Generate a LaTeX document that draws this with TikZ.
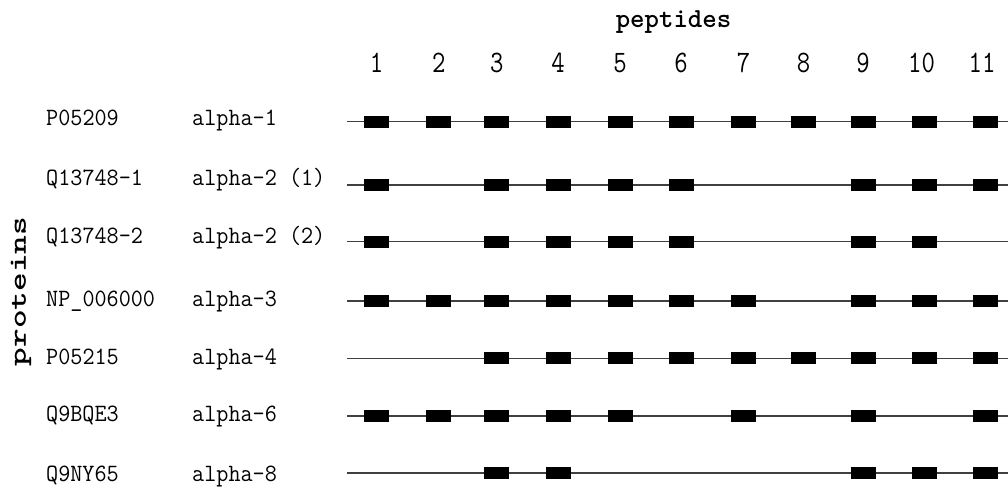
\documentclass[tikz,border=0pt]{standalone}
\usepackage{fontspec}
\usepackage{graphicx}
\tikzset{
  lbl/.style={anchor=base west, inner sep=0pt, font=\fontsize{23.5}{28}\selectfont\ttfamily},
  num/.style={anchor=base, inner sep=0pt, font=\fontsize{26}{30}\selectfont\ttfamily},
  axislbl/.style={inner sep=0pt, font=\fontsize{27.5}{32}\selectfont\ttfamily\bfseries},
  track/.style={draw=black!75, line width=1.4pt},
  pep/.style={fill=black, draw=none, minimum width=25pt, minimum height=12pt, inner sep=0pt}
}
\newcommand{\vs}[1]{\scalebox{1}[1.06]{#1}}
\newcommand{\vn}[1]{\scalebox{1}[1.2]{#1}}
\begin{document}
\begin{tikzpicture}[x=1pt,y=-1pt]
\useasboundingbox (0,0) rectangle (1008,488);
% header
\node[axislbl, anchor=base] (peptides) at (673.5,27) {peptides};
\node[axislbl, rotate=90, font=\fontsize{25}{30}\selectfont\ttfamily\bfseries] (proteins) at (21,291.5) {\scalebox{1.42}[1]{proteins}};
\foreach \i/\x in {1/376.5,2/438.8,3/496.8,4/558,5/620,6/681,7/743.5,8/803.5,9/863,10/921.5,11/982}
  \node[num] (n\i) at (\x,72) {\vn{\i}};
% row labels
\foreach \r/\ty/\id/\nm in {1/125/P05209/alpha-1, 2/185/Q13748-1/alpha-2 (1), 3/243/Q13748-2/alpha-2 (2), 4/306.5/NP\_006000/alpha-3, 5/364/P05215/alpha-4, 6/421.7/Q9BQE3/alpha-6, 7/481.7/Q9NY65/alpha-8}{
  \node[lbl] (id\r) at (46,\ty) {\vs{\id}};
  \node[lbl] (nm\r) at (192,\ty) {\vs{\nm}};
}
% tracks
\foreach \r/\ly in {1/121.7,2/185,3/241.7,4/301,5/358.3,6/416,7/473}{
  \coordinate (s\r) at (347,\ly);
  \coordinate (e\r) at (1008,\ly);
  \draw[track] (s\r) -- (e\r);
}
% peptide boxes
\def\colx#1{\ifcase#1\or376.5\or438.8\or496.8\or558\or620\or681\or743.5\or803.5\or863\or924.5\or985.5\fi}
\foreach \r/\ly/\cols in {1/121.7/{1,2,3,4,5,6,7,8,9,10,11},
                          2/185/{1,3,4,5,6,9,10,11},
                          3/241.7/{1,3,4,5,6,9,10},
                          4/301/{1,2,3,4,5,6,7,9,10,11},
                          5/358.3/{3,4,5,6,7,8,9,10,11},
                          6/416/{1,2,3,4,5,7,9,11},
                          7/473/{3,4,9,10,11}}{
  \foreach \c in \cols
    \node[pep] (b\r-\c) at (\colx{\c},\ly) {};
}
\end{tikzpicture}
\end{document}
